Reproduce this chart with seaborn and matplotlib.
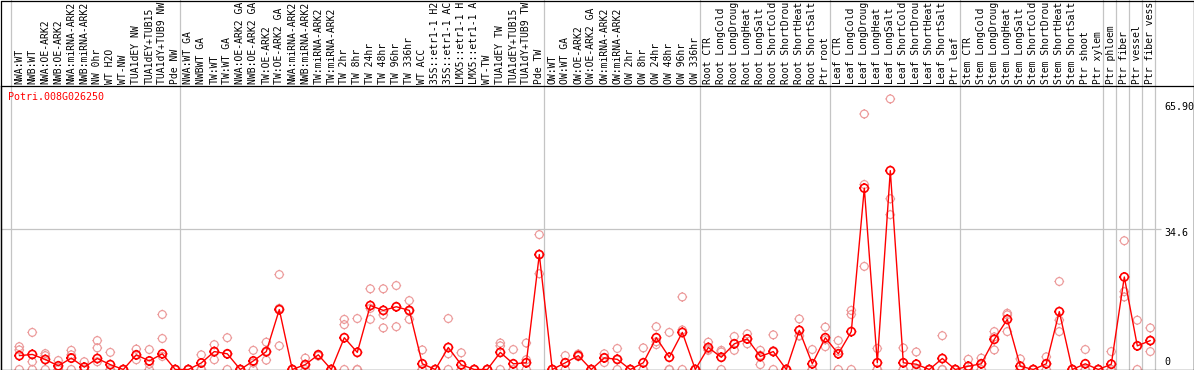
import numpy as np
import pandas as pd
import matplotlib
matplotlib.use("Agg")
import matplotlib.pyplot as plt
import seaborn as sns
from matplotlib.path import Path
from matplotlib.lines import Line2D
import matplotlib.transforms as mtransforms

gene_id = "Potri.008G026250"

# labels as they are visible in the reference (long ones are truncated there)
categories = [
    "NWA:WT", "NWB:WT", "NWA:OE-ARK2", "NWB:OE-ARK2", "NWA:miRNA-ARK2", "NWB:miRNA-ARK2",
    "NW 0hr", "WT H2O", "WT-NW", "TUA1dEY NW", "TUA1dEY+TUB15", "TUA1dY+TUB9 NW", "Pde NW",
    "NWA:WT GA", "NWBWT GA", "TW:WT", "TW:WT GA", "NWA:OE-ARK2 GA", "NWB:OE-ARK2 GA",
    "TW:OE-ARK2", "TW:OE-ARK2 GA", "NWA:miRNA-ARK2", "NWB:miRNA-ARK2", "TW:miRNA-ARK2",
    "TW:miRNA-ARK2", "TW 2hr", "TW 8hr", "TW 24hr", "TW 48hr", "TW 96hr", "TW 336hr",
    "WT ACC", "35S::etr1-1 H2", "35S::etr1-1 AC", "LMX5::etr1-1 H", "LMX5::etr1-1 A",
    "WT-TW", "TUA1dEY TW", "TUA1dEY+TUB15", "TUA1dY+TUB9 TW", "Pde TW",
    "OW:WT", "OW:WT GA", "OW:OE-ARK2", "OW:OE-ARK2 GA", "OW:miRNA-ARK2", "OW:miRNA-ARK2",
    "OW 2hr", "OW 8hr", "OW 24hr", "OW 48hr", "OW 96hr", "OW 336hr",
    "Root CTR", "Root LongCold", "Root LongDroug", "Root LongHeat", "Root LongSalt",
    "Root ShortCold", "Root ShortDrou", "Root ShortHeat", "Root ShortSalt", "Ptr root",
    "Leaf CTR", "Leaf LongCold", "Leaf LongDroug", "Leaf LongHeat", "Leaf LongSalt",
    "Leaf ShortCold", "Leaf ShortDrou", "Leaf ShortHeat", "Leaf ShortSalt", "Ptr leaf",
    "Stem CTR", "Stem LongCold", "Stem LongDroug", "Stem LongHeat", "Stem LongSalt",
    "Stem ShortCold", "Stem ShortDrou", "Stem ShortHeat", "Stem ShortSalt", "Ptr shoot",
    "Ptr xylem", "Ptr phloem", "Ptr fiber", "Ptr vessel", "Ptr fiber vess",
]

mean_values = [
    3.4, 3.7, 2.45, 0.9, 2.8, 0.57, 2.7, 1.2, 0, 3.6, 2.1, 3.85, 0,
    0, 1.6, 4.4, 3.85, 0, 2.1, 4.4, 14.7, 0, 1.2, 3.6, 0, 7.8, 4.2, 15.7, 14.5,
    15.4, 14.5, 1.4, 0, 5.4, 1.15, 0, 0, 4.2, 1.4, 1.65, 28.2,
    0, 1.65, 3.4, 0, 2.85, 2.5, 0, 1.65, 7.8, 3.0, 9.1, 0,
    5.4, 3.0, 6.3, 7.5, 3.2, 4.4, 0, 9.6, 1.4, 7.8,
    3.85, 9.3, 44.5, 1.65, 48.8, 1.65, 1.3, 0, 2.7, 0,
    0.8, 1.4, 7.4, 12.3, 0.8, 0, 1.4, 14.2, 0, 1.4, 0,
    1.3, 22.7, 5.8, 7.1,
]

rep1 = [
    5.6, 9.1, 3.9, 2.2, 4.7, 1.9, 7.1, 4.2, 0, 5.0, 4.9, 13.5, 0,
    0, 3.6, 6.1, 7.8, 0, 4.7, 6.7, 23.3, 0, 2.8, 3.7, 0, 12.3, 12.5, 19.8, 19.8,
    20.6, 16.9, 4.8, 0, 12.5, 4.1, 0, 0, 6.5, 4.9, 6.5, 33.1,
    0, 3.4, 3.8, 0, 3.85, 5.15, 0, 5.3, 10.5, 9.1, 17.8, 0,
    6.7, 4.7, 8.1, 8.75, 4.7, 8.5, 0, 12.4, 4.9, 10.4,
    7.1, 14.5, 62.7, 5.15, 66.4, 5.3, 4.3, 0, 8.3, 0,
    2.5, 2.8, 9.3, 13.8, 2.6, 0, 3.1, 21.6, 0, 4.9, 0,
    4.4, 31.6, 12.1, 10.2,
]
rep2 = [
    4.8, 1.9, 3.4, 0.5, 3.6, 0, 5.3, 0, 0, 3.5, 1.3, 7.6, 0,
    0, 0, 2.4, 0, 0, 0, 2.3, 15.0, 0, 0, 3.5, 0, 11.0, 0, 15.0, 13.4,
    15.4, 14.3, 0, 0, 3.85, 0, 0, 0, 5.8, 0, 2.4, 28.2,
    0, 0, 3.2, 0, 1.7, 0, 0, 0, 6.1, 0, 9.7, 0,
    4.7, 0, 4.7, 6.3, 1.2, 0, 0, 8.3, 0, 5.6,
    0, 13.5, 45.4, 0, 41.9, 0, 0, 0, 0, 0,
    0, 0, 4.8, 9.3, 0, 0, 0, 12.1, 0, 0, 0,
    0, 19.1, 0, 4.4,
]
rep3 = [
    0, 0, 0, 0, 0, 0, 1.9, 0, 0, 2.4, 0, 3.2, 0,
    0, 0, 4.4, 3.8, 0, 1.6, 4.2, 5.8, 0, 1.0, 3.3, 0, 0, 0, 12.3, 10.2,
    10.5, 12.3, 0, 0, 0, 0, 0, 0, 0, 0, 0, 23.5,
    0, 1.6, 3.2, 0, 2.9, 2.4, 0, 0, 6.8, 0, 0, 0,
    5.0, 4.3, 6.3, 7.5, 3.5, 4.6, 0, 8.2, 0, 7.3,
    4.5, 0, 25.3, 0, 38.0, 0, 0, 0, 0, 0,
    0, 1.4, 8.0, 13.4, 0, 0, 1.4, 9.3, 0, 0, 0,
    0, 17.8, 5.8, 7.1,
]

group_ends = [-1, 12, 40, 52, 62, 72, 83, 84, 85, 86, 87]
y_grid_value = 34.6
y_labels = ["65.90", "34.6", "0"]

# ---------------- layout (pixel based) ----------------
W, H = 1194, 370
sns.set_theme(style="white")
plt.rcParams['font.family'] = ['DejaVu Sans Mono', 'DejaVu Sans']
FS = 7.0

fig = plt.figure(figsize=(W / 100, H / 100), dpi=100)
fig.patch.set_facecolor("white")

def fx(px):
    return px / W

def fy(py):
    return 1 - py / H

ax_top_px, ax_bot_px = 85.5, 369.5
ax = fig.add_axes([fx(0.5), fy(ax_bot_px), 1193 / W, (ax_bot_px - ax_top_px) / H])
px_per_unit = 141.0 / 34.6
x0px, step = 19.3, 13.0
xlim = ((0.5 - x0px) / step, (1193.5 - x0px) / step)
ylim = (0, (ax_bot_px - ax_top_px) / px_per_unit)

n = len(categories)
xs = np.arange(n)

grid_c = "#C4C4C4"
for g in group_ends:
    ax.axvline(g + 0.36, ymin=0, ymax=ax_bot_px / (ax_bot_px - ax_top_px),
               color=grid_c, lw=0.9, clip_on=False, zorder=0.5)
x_right = (1161 - x0px) / step
ax.hlines(y_grid_value, xlim[0], x_right, color=grid_c, lw=0.9, zorder=0.5)

# marker: circle with tiny ticks
circ = Path.unit_circle()
t = 1.25
ticks = Path([(0, 1), (0, t), (0, -1), (0, -t), (1, 0), (t, 0), (-1, 0), (-t, 0)],
             [Path.MOVETO, Path.LINETO] * 4)
marker_path = Path.make_compound_path(circ, ticks)

pink = "#EC9A9A"
red = "#FF0000"

reps_df = pd.DataFrame({"x": np.concatenate([xs, xs, xs]),
                        "value": np.concatenate([rep1, rep2, rep3])}).dropna()
sns.scatterplot(data=reps_df, x="x", y="value", marker=marker_path, s=7.0 ** 2,
                color=pink, facecolor="none", edgecolor=pink, linewidth=0.85,
                ax=ax, zorder=2, legend=False)

means_df = pd.DataFrame({"x": xs, "value": mean_values})
sns.lineplot(data=means_df, x="x", y="value", color=red, lw=1.0, ax=ax,
             estimator=None, sort=False, zorder=3, legend=False)
sns.scatterplot(data=means_df, x="x", y="value", marker=marker_path, s=7.2 ** 2,
                color=red, facecolor="none", edgecolor=red, linewidth=1.2,
                ax=ax, zorder=4, legend=False)

ax.set_xlabel("")
ax.set_ylabel("")
ax.set_xticks([])
ax.set_yticks([])
ax.set_xlim(*xlim)
ax.set_ylim(*ylim)
for s in ax.spines.values():
    s.set_color("black")
    s.set_linewidth(0.9)
ax.set_facecolor("white")

# category labels (rotated)
trans = mtransforms.blended_transform_factory(ax.transData, fig.transFigure)
for i, lab in enumerate(categories):
    ax.text(i, fy(83.5), lab, rotation=90, ha="center", va="bottom",
            fontsize=FS, color="black", transform=trans, clip_on=False)

# gene id
fig.text(fx(8), fy(97), gene_id, color=red, fontsize=7.2, ha="left", va="center")

# value labels at right
for lab, ypx in zip(y_labels, [107, 233, 362]):
    fig.text(fx(1164), fy(ypx), lab, color="black", fontsize=7.2, ha="left", va="center")

# outer frame
for (xa, ya, xb, yb) in [(0.5, 0.5, 1193.5, 0.5), (0.5, 0.5, 0.5, 369.5),
                         (1193.5, 0.5, 1193.5, 369.5)]:
    fig.add_artist(Line2D([fx(xa), fx(xb)], [fy(ya), fy(yb)], color="black", lw=0.9))

fig.savefig("out.png", dpi=100, facecolor="white")
